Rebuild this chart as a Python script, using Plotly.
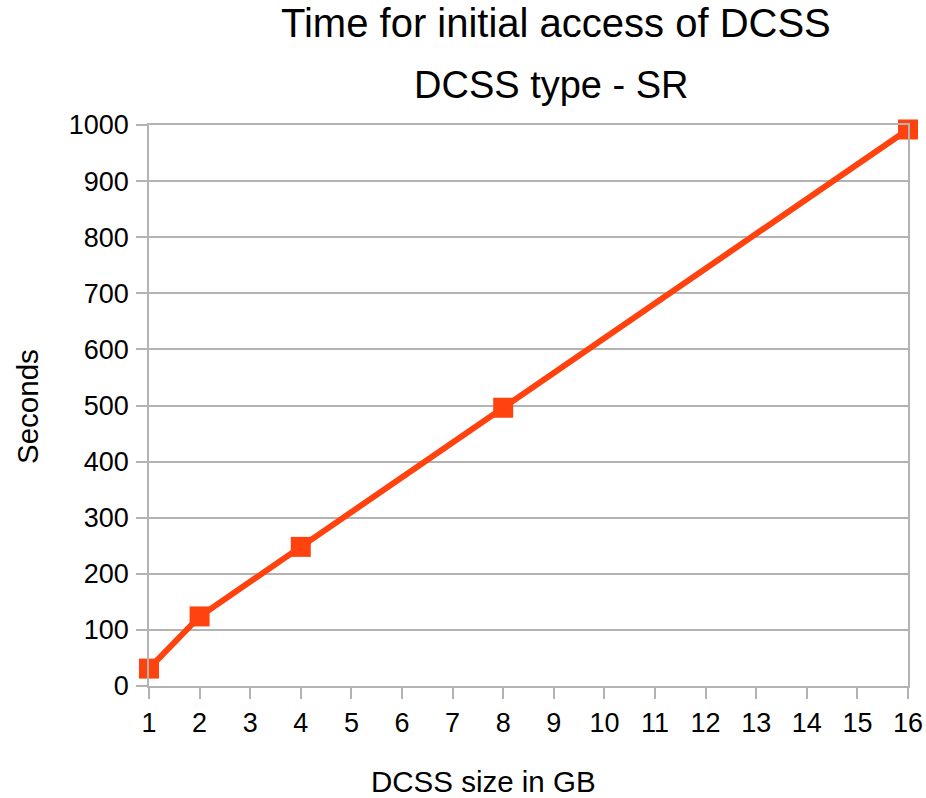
import plotly.graph_objects as go

sizes_gb = [1, 2, 4, 8, 16]
seconds = [31, 124, 248, 496, 992]
x_ticks = list(range(1, 17))
y_ticks = list(range(0, 1001, 100))

title_text = "Time for initial access of DCSS"
subtitle_text = "DCSS type - SR"
x_title = "DCSS size in GB"
y_title = "Seconds"

FONT = "Liberation Sans, Arial, sans-serif"
GRID = "#b3b3b3"
LINE_COLOR = "#ff420e"

fig = go.Figure()
fig.add_trace(go.Scatter(
    x=sizes_gb, y=seconds, mode="lines+markers",
    line=dict(color=LINE_COLOR, width=6),
    marker=dict(symbol="square", size=20, color=LINE_COLOR, line=dict(width=0)),
    cliponaxis=False,
    showlegend=False,
))

W, H = 926, 798
L, R, T, B = 149, 18, 125, 112
ph = H - T - B
pw = W - L - R

def py(p):
    return (H - B - p) / ph

def px(p):
    return (p - L) / pw

fig.update_layout(
    width=W, height=H, autosize=False,
    margin=dict(l=L, r=R, t=T, b=B, pad=0, autoexpand=False),
    paper_bgcolor="white", plot_bgcolor="white",
    font=dict(family=FONT, size=27, color="black"),
    annotations=[
        dict(text=title_text, xref="paper", yref="paper", x=px(556), y=py(23),
             xanchor="center", yanchor="middle", showarrow=False,
             font=dict(size=40, family=FONT, color="black")),
        dict(text=subtitle_text, xref="paper", yref="paper", x=px(551), y=py(85),
             xanchor="center", yanchor="middle", showarrow=False,
             font=dict(size=38, family=FONT, color="black")),
        dict(text=x_title, xref="paper", yref="paper", x=px(483), y=py(781),
             xanchor="center", yanchor="middle", showarrow=False,
             font=dict(size=29.5, family=FONT, color="black")),
        dict(text=y_title, xref="paper", yref="paper", x=px(27), y=py(407),
             xanchor="center", yanchor="middle", showarrow=False, textangle=-90,
             font=dict(size=29.5, family=FONT, color="black")),
    ],
)

fig.update_xaxes(
    range=[1, 16], tickmode="array", tickvals=x_ticks, ticktext=[str(v) for v in x_ticks],
    showgrid=False, zeroline=False, automargin=False,
    showline=True, linecolor=GRID, linewidth=1.5, mirror=True,
    ticks="outside", ticklen=11, tickcolor=GRID, tickwidth=1.5,
    tickfont=dict(size=27, family=FONT, color="black"),
    ticklabelstandoff=1,
)
fig.update_yaxes(
    range=[0, 1000], tickmode="array", tickvals=y_ticks, ticktext=[str(v) for v in y_ticks],
    showgrid=True, gridcolor=GRID, gridwidth=1.5, zeroline=False, automargin=False,
    showline=True, linecolor=GRID, linewidth=1.5, mirror=True,
    ticks="outside", ticklen=11, tickcolor=GRID, tickwidth=1.5,
    tickfont=dict(size=27, family=FONT, color="black"),
    ticklabelstandoff=2,
)

fig.write_html("out.html")
